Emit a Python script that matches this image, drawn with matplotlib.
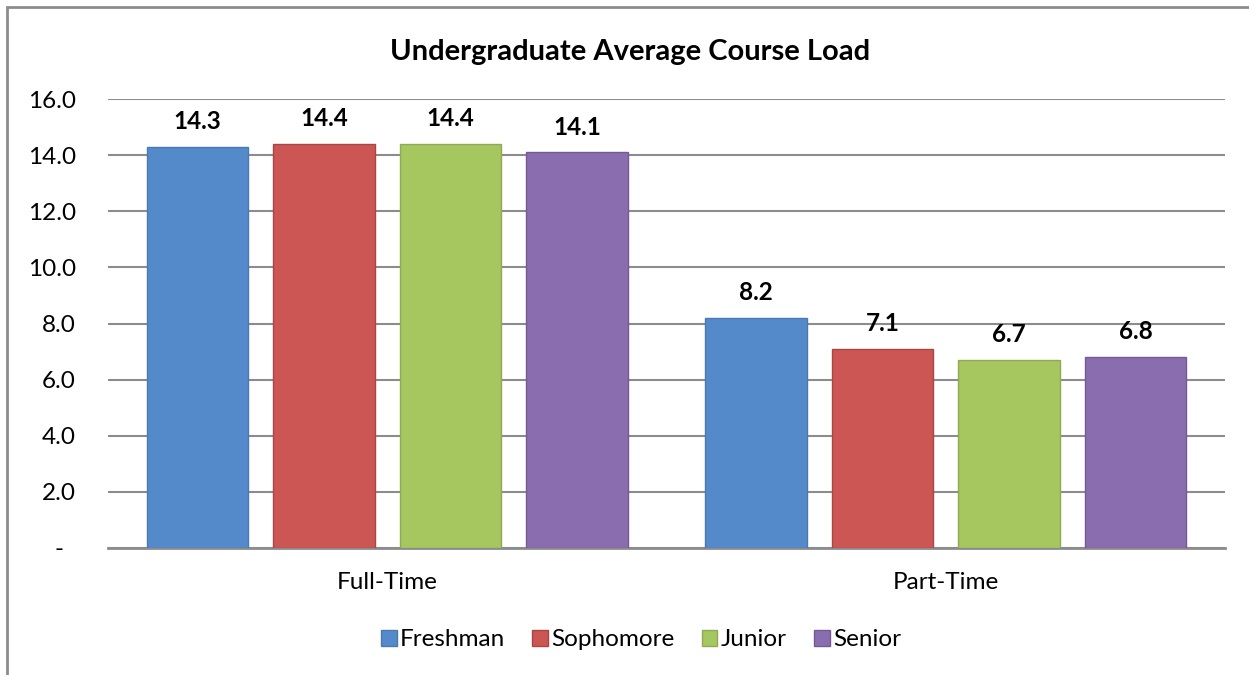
import matplotlib.pyplot as plt
from matplotlib.patches import Rectangle, Patch
import numpy as np

plt.rcParams['font.family'] = ['Lato', 'DejaVu Sans']

groups = ['Full-Time', 'Part-Time']
classes = ['Freshman', 'Sophomore', 'Junior', 'Senior']
loads = {
    'Freshman': [14.3, 8.2],
    'Sophomore': [14.4, 7.1],
    'Junior': [14.4, 6.7],
    'Senior': [14.1, 6.8],
}
colors = ['#558ACA', '#CC5654', '#A6C660', '#8A6DAE']
edges = ['#4A78B0', '#A84644', '#8FAA52', '#735A92']

W, H = 1249, 675
fig = plt.figure(figsize=(W / 100, H / 100), dpi=100)
ax = fig.add_axes([108 / W, 1 - 548 / H, (1225 - 108) / W, (548 - 99) / H])

# outer chart border (cropped on right/bottom)
fig.patches.append(Rectangle((7 / W, -0.1), 1.2, 1 - 7 / H + 0.1,
                             transform=fig.transFigure, fill=False,
                             edgecolor='#8C8C8C', linewidth=2))

x = np.arange(len(groups))
step = 0.2265
bw = 0.181
for i, c in enumerate(classes):
    pos = x + (i - 1.5) * step
    bars = ax.bar(pos, loads[c], width=bw, color=colors[i], edgecolor=edges[i],
                  linewidth=1, zorder=3, label=c)
    for b, v in zip(bars, loads[c]):
        ax.text(b.get_x() + b.get_width() / 2, v + 0.9, f'{v:.1f}',
                ha='center', va='center', fontsize=17.5, fontweight='bold')

ax.set_xlim(-0.5, 1.5)
ax.set_ylim(0, 16)
ax.set_yticks(np.arange(0, 17, 2))
ax.set_yticklabels(['-  '] + [f'{v:.1f}' for v in np.arange(2, 17, 2)], fontsize=17.5)
ax.set_xticks(x)
ax.set_xticklabels(groups, fontsize=17.5)
ax.tick_params(axis='y', length=0, pad=23)
ax.tick_params(axis='x', length=0, pad=17)
ax.yaxis.grid(True, color='#8C8C8C', linewidth=1.5, zorder=0)
ax.set_axisbelow(True)
for s in ['top', 'right', 'left']:
    ax.spines[s].set_visible(False)
ax.spines['bottom'].set_color('#8C8C8C')
ax.spines['bottom'].set_linewidth(2)

fig.text(630 / W, 1 - 52 / H, 'Undergraduate Average Course Load',
         ha='center', va='center', fontsize=21, fontweight='bold')

handles = [Patch(facecolor=colors[i], edgecolor=edges[i], label=c)
           for i, c in enumerate(classes)]
fig.legend(handles=handles, loc='center', bbox_to_anchor=(641 / W, 1 - 640 / H),
           ncol=4, frameon=False, fontsize=17.5, handlelength=0.65, handleheight=0.65,
           handletextpad=0.15, columnspacing=1.1)

fig.savefig('out.png', dpi=100)
